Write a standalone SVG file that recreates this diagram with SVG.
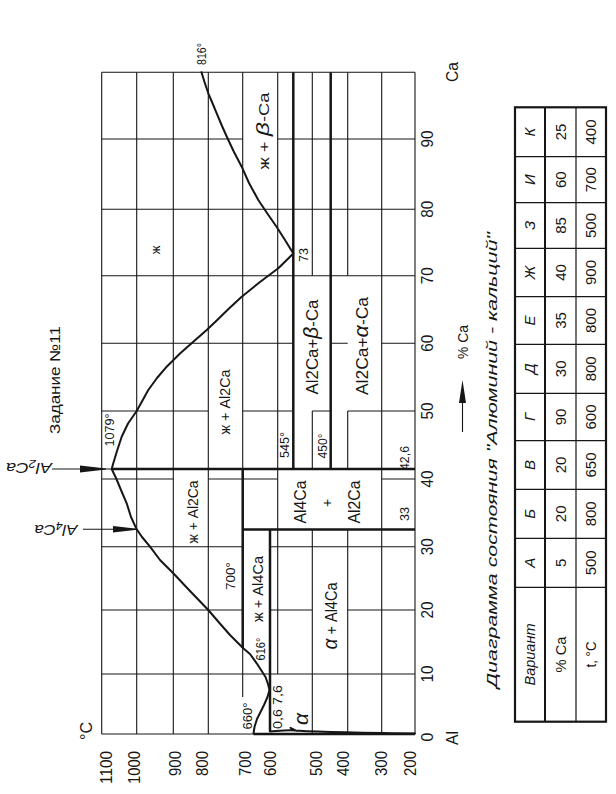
<svg xmlns="http://www.w3.org/2000/svg" width="616" height="794" viewBox="0 0 616 794">
<style>
text{font-family:"Liberation Sans",Arial,sans-serif;fill:#161616}
.grid{fill:none;stroke:#161616;stroke-width:1.1}
.thick{fill:none;stroke:#161616;stroke-width:2.5}
.curve{fill:none;stroke:#161616;stroke-width:2;stroke-linejoin:round;stroke-linecap:round}
.it{font-style:italic}
</style>
<rect width="616" height="794" fill="#fff"/>
<g id="connectors">
<path class="grid" d="M101.7 72.3V734M136.7 72.3V734M173.3 72.3V734M208.3 72.3V734M242.7 72.3V697M277.7 72.3V674M312.3 72.3V275.7M312.3 411V469M312.3 529.5V734M347.7 72.3V275.7M347.7 411V469M347.7 529.5V734M381.7 72.3V734M415 72.3V734"/>
<path class="grid" d="M101.7 72.3H415M101.7 139H242.7M277.7 139H415M101.7 209.3H415M101.7 275.7H415M101.7 343.3H293.3M330.7 343.3H347.7M381.7 343.3H415M101.7 411H208.3M242.7 411H293.3M312.3 411H330.7M347.7 411H415M101.7 479H173.3M208.3 479H277.7M381.7 479H415M101.7 546.7H242.7M270 546.7H415M101.7 610H242.7M270 610H312.3M347.7 610H415M101.7 674H415M101.7 734H253.5"/>
<path class="thick" d="M111.7 469H415M293.3 72.3V469M330.7 72.3V469M242.7 469V648M242.7 529.5H415M270 529.5V731.5M253.5 734H415"/>
<polyline class="curve" points="253.5,733.5 254.5,727 257,719 260.5,712 264,705 267.5,697 269.5,690 268,684 265.5,677 261.7,671 256.7,663.3 250,654 243.5,648.5 236,641 230,635 219,622.5 208.3,610 190,591 173.3,573.3 160,560 150,546.7 142,537 136.7,529.3 131,517 126.7,503.3 121,490 116,478 111.7,469 113.3,463.3 117,451 121.7,436.7 128,423.5 136.7,411 148.3,390 157,378 166.7,366.7 180,353.5 193.3,341.7 206.7,330 216.7,320.5 229,308.5 241.7,296.7 260,282 278.3,268.3 293.3,253.5 285,240 276.7,227 267,213 258.3,200 249,183 241.7,166.7 234,152 228.3,140 222,126 216.7,113.3 212,102 208.3,93.3 204.5,82 201.5,72.3"/>
<path class="curve" d="M270 731.5C282 730.5 289 729.5 296 730.5C310 731.5 340 732.5 415 733.5M290.5 727.8L296.5 730.8"/>
<path class="grid" stroke-width="1.4" d="M52 469H111.7M83 529.3H136.7M462.5 432V395"/>
<polygon points="80,465.5 106,468.4 106,469.6 80,472.5" fill="#161616"/>
<polygon points="113,526 137,528.8 137,529.8 113,532.6" fill="#161616"/>
<polygon points="459,403 462.5,380 466,403" fill="#161616"/>
</g>
<g id="axis-temperature" font-size="16" text-anchor="end">
<text transform="translate(112.4,751) rotate(-90)" textLength="33" lengthAdjust="spacingAndGlyphs">1100</text>
<text transform="translate(139.7,751) rotate(-90)" textLength="33" lengthAdjust="spacingAndGlyphs">1000</text>
<text transform="translate(180.7,751) rotate(-90)" textLength="25" lengthAdjust="spacingAndGlyphs">900</text>
<text transform="translate(208.4,751) rotate(-90)" textLength="25" lengthAdjust="spacingAndGlyphs">800</text>
<text transform="translate(250.7,751) rotate(-90)" textLength="25" lengthAdjust="spacingAndGlyphs">700</text>
<text transform="translate(276.4,751) rotate(-90)" textLength="25" lengthAdjust="spacingAndGlyphs">600</text>
<text transform="translate(321.7,751) rotate(-90)" textLength="25" lengthAdjust="spacingAndGlyphs">500</text>
<text transform="translate(349,751) rotate(-90)" textLength="25" lengthAdjust="spacingAndGlyphs">400</text>
<text transform="translate(387.4,751) rotate(-90)" textLength="25" lengthAdjust="spacingAndGlyphs">300</text>
<text transform="translate(415.7,751) rotate(-90)" textLength="25" lengthAdjust="spacingAndGlyphs">200</text>
<text transform="translate(92,740) rotate(-90)" text-anchor="start" textLength="18" lengthAdjust="spacingAndGlyphs">°C</text>
</g>
<g id="axis-ca" font-size="16" text-anchor="middle">
<text transform="translate(427,737) rotate(-90)" dy=".36em">0</text>
<text transform="translate(427,674) rotate(-90)" dy=".36em" textLength="17" lengthAdjust="spacingAndGlyphs">10</text>
<text transform="translate(427,610) rotate(-90)" dy=".36em" textLength="17" lengthAdjust="spacingAndGlyphs">20</text>
<text transform="translate(427,546.7) rotate(-90)" dy=".36em" textLength="17" lengthAdjust="spacingAndGlyphs">30</text>
<text transform="translate(427,479) rotate(-90)" dy=".36em" textLength="17" lengthAdjust="spacingAndGlyphs">40</text>
<text transform="translate(427,411) rotate(-90)" dy=".36em" textLength="17" lengthAdjust="spacingAndGlyphs">50</text>
<text transform="translate(427,343.3) rotate(-90)" dy=".36em" textLength="17" lengthAdjust="spacingAndGlyphs">60</text>
<text transform="translate(427,275.7) rotate(-90)" dy=".36em" textLength="17" lengthAdjust="spacingAndGlyphs">70</text>
<text transform="translate(427,209.3) rotate(-90)" dy=".36em" textLength="17" lengthAdjust="spacingAndGlyphs">80</text>
<text transform="translate(427,139) rotate(-90)" dy=".36em" textLength="17" lengthAdjust="spacingAndGlyphs">90</text>
<text transform="translate(452,72) rotate(-90)" dy=".36em" textLength="20" lengthAdjust="spacingAndGlyphs">Ca</text>
<text transform="translate(452,738) rotate(-90)" dy=".36em" textLength="14" lengthAdjust="spacingAndGlyphs">Al</text>
<text transform="translate(463,342) rotate(-90)" dy=".36em" font-size="15" textLength="34" lengthAdjust="spacingAndGlyphs">% Ca</text>
</g>
<g id="title" text-anchor="middle">
<text class="it" transform="translate(492,460) rotate(-90)" dy=".36em" font-size="14.5" textLength="456" lengthAdjust="spacingAndGlyphs">Диаграмма состояния "Алюминий - кальций"</text>
<text transform="translate(55,380) rotate(-90)" dy=".36em" font-size="14.5" textLength="108" lengthAdjust="spacingAndGlyphs">Задание №11</text>
</g>
<g id="compound-labels" font-size="15" text-anchor="middle">
<text class="it" transform="translate(29,468) rotate(180)" dy=".36em" textLength="46" lengthAdjust="spacingAndGlyphs">Al<tspan font-size="11" dy="3">2</tspan><tspan dy="-3">Ca</tspan></text>
<text class="it" transform="translate(56,530) rotate(180)" dy=".36em" textLength="43" lengthAdjust="spacingAndGlyphs">Al<tspan font-size="11" dy="3">4</tspan><tspan dy="-3">Ca</tspan></text>
</g>
<g id="phase-labels" text-anchor="middle">
<text transform="translate(155,250) rotate(-90)" dy=".36em" font-size="13">ж</text>
<text transform="translate(264,131) rotate(-90)" dy=".36em" font-size="14" textLength="77" lengthAdjust="spacingAndGlyphs">ж + <tspan class="it" font-size="19">β</tspan>-Ca</text>
<text transform="translate(225,402) rotate(-90)" dy=".36em" font-size="14" textLength="65" lengthAdjust="spacingAndGlyphs">ж + Al2Ca</text>
<text transform="translate(193,512) rotate(-90)" dy=".36em" font-size="14" textLength="63" lengthAdjust="spacingAndGlyphs">ж + Al2Ca</text>
<text transform="translate(312,347) rotate(-90)" dy=".36em" font-size="17" textLength="95" lengthAdjust="spacingAndGlyphs">Al2Ca+<tspan class="it" font-size="21">β</tspan>-Ca</text>
<text transform="translate(362,346) rotate(-90)" dy=".36em" font-size="17" textLength="98" lengthAdjust="spacingAndGlyphs">Al2Ca+<tspan class="it" font-size="21">α</tspan>-Ca</text>
<text transform="translate(300,502) rotate(-90)" dy=".36em" font-size="17" textLength="43" lengthAdjust="spacingAndGlyphs">Al4Ca</text>
<text transform="translate(327,503) rotate(-90)" dy=".36em" font-size="14">+</text>
<text transform="translate(354,502) rotate(-90)" dy=".36em" font-size="17" textLength="43" lengthAdjust="spacingAndGlyphs">Al2Ca</text>
<text transform="translate(257.5,589) rotate(-90)" dy=".36em" font-size="14" textLength="66" lengthAdjust="spacingAndGlyphs">ж + Al4Ca</text>
<text transform="translate(331,616) rotate(-90)" dy=".36em" font-size="16" textLength="67" lengthAdjust="spacingAndGlyphs"><tspan class="it" font-size="21">α</tspan> + Al4Ca</text>
<text class="it" transform="translate(300,719) rotate(-90)" dy=".36em" font-size="21">α</text>
</g>
<g id="point-labels" text-anchor="middle" font-size="13">
<text transform="translate(201.5,54) rotate(-90)" dy=".36em" textLength="22" lengthAdjust="spacingAndGlyphs">816°</text>
<text transform="translate(109,430) rotate(-90)" dy=".36em" textLength="33" lengthAdjust="spacingAndGlyphs">1079°</text>
<text transform="translate(303,255) rotate(-90)" dy=".36em" textLength="14" lengthAdjust="spacingAndGlyphs">73</text>
<text transform="translate(284,445) rotate(-90)" dy=".36em" textLength="26" lengthAdjust="spacingAndGlyphs">545°</text>
<text transform="translate(322,446) rotate(-90)" dy=".36em" textLength="25" lengthAdjust="spacingAndGlyphs">450°</text>
<text transform="translate(404,458) rotate(-90)" dy=".36em" textLength="24" lengthAdjust="spacingAndGlyphs">42,6</text>
<text transform="translate(404,514) rotate(-90)" dy=".36em" textLength="14" lengthAdjust="spacingAndGlyphs">33</text>
<text transform="translate(230,576) rotate(-90)" dy=".36em" textLength="28" lengthAdjust="spacingAndGlyphs">700°</text>
<text transform="translate(260,649) rotate(-90)" dy=".36em" textLength="23" lengthAdjust="spacingAndGlyphs">616°</text>
<text transform="translate(247,716) rotate(-90)" dy=".36em" textLength="27" lengthAdjust="spacingAndGlyphs">660°</text>
<text transform="translate(277.5,707) rotate(-90)" dy=".36em" textLength="44" lengthAdjust="spacingAndGlyphs">0,6  7,6</text>
</g>
<g id="table">
<rect x="515" y="107.3" width="91" height="614.4" fill="none" stroke="#161616" stroke-width="2.2"/>
<path fill="none" stroke="#161616" stroke-width="2" d="M545 107.3V721.7"/>
<path fill="none" stroke="#161616" stroke-width="1.2" d="M576 107.3V721.7M515 156.7H606M515 202.7H606M515 248.3H606M515 296.7H606M515 344.3H606M515 393.3H606M515 440.7H606M515 489.3H606M515 538.3H606M515 587.3H606"/>
<g text-anchor="middle" font-size="15">
<text class="it" transform="translate(530,654.5) rotate(-90)" dy=".36em" textLength="62" lengthAdjust="spacingAndGlyphs">Вариант</text>
<text transform="translate(560.5,654.5) rotate(-90)" dy=".36em" textLength="36" lengthAdjust="spacingAndGlyphs">% Ca</text>
<text transform="translate(591,654.5) rotate(-90)" dy=".36em" textLength="26" lengthAdjust="spacingAndGlyphs">t, °C</text>
<text class="it" transform="translate(530,562.8) rotate(-90)" dy=".36em">А</text>
<text class="it" transform="translate(530,513.8) rotate(-90)" dy=".36em">Б</text>
<text class="it" transform="translate(530,465) rotate(-90)" dy=".36em">В</text>
<text class="it" transform="translate(530,417) rotate(-90)" dy=".36em">Г</text>
<text class="it" transform="translate(530,368.8) rotate(-90)" dy=".36em">Д</text>
<text class="it" transform="translate(530,320.5) rotate(-90)" dy=".36em">Е</text>
<text class="it" transform="translate(530,272.5) rotate(-90)" dy=".36em">Ж</text>
<text class="it" transform="translate(530,225.5) rotate(-90)" dy=".36em">З</text>
<text class="it" transform="translate(530,179.7) rotate(-90)" dy=".36em">И</text>
<text class="it" transform="translate(530,132) rotate(-90)" dy=".36em">К</text>
<text transform="translate(560.5,562.8) rotate(-90)" dy=".36em">5</text>
<text transform="translate(560.5,513.8) rotate(-90)" dy=".36em">20</text>
<text transform="translate(560.5,465) rotate(-90)" dy=".36em">20</text>
<text transform="translate(560.5,417) rotate(-90)" dy=".36em">90</text>
<text transform="translate(560.5,368.8) rotate(-90)" dy=".36em">30</text>
<text transform="translate(560.5,320.5) rotate(-90)" dy=".36em">35</text>
<text transform="translate(560.5,272.5) rotate(-90)" dy=".36em">40</text>
<text transform="translate(560.5,225.5) rotate(-90)" dy=".36em">85</text>
<text transform="translate(560.5,179.7) rotate(-90)" dy=".36em">60</text>
<text transform="translate(560.5,132) rotate(-90)" dy=".36em">25</text>
<text transform="translate(591,562.8) rotate(-90)" dy=".36em">500</text>
<text transform="translate(591,513.8) rotate(-90)" dy=".36em">800</text>
<text transform="translate(591,465) rotate(-90)" dy=".36em">650</text>
<text transform="translate(591,417) rotate(-90)" dy=".36em">600</text>
<text transform="translate(591,368.8) rotate(-90)" dy=".36em">800</text>
<text transform="translate(591,320.5) rotate(-90)" dy=".36em">800</text>
<text transform="translate(591,272.5) rotate(-90)" dy=".36em">900</text>
<text transform="translate(591,225.5) rotate(-90)" dy=".36em">500</text>
<text transform="translate(591,179.7) rotate(-90)" dy=".36em">700</text>
<text transform="translate(591,132) rotate(-90)" dy=".36em">400</text>
</g>
</g>
</svg>
